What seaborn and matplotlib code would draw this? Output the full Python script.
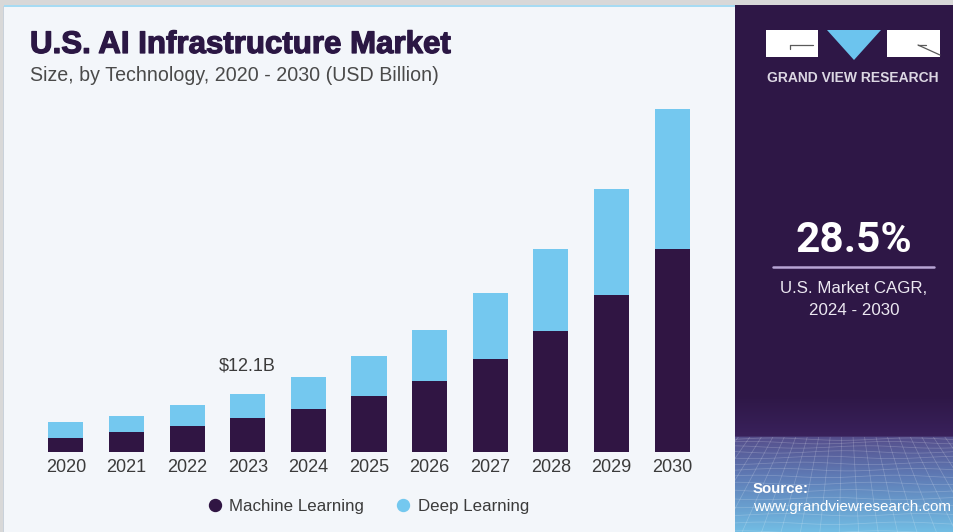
import numpy as np
import pandas as pd
import matplotlib
matplotlib.use("Agg")
import matplotlib.pyplot as plt
import matplotlib.patheffects as pe
from matplotlib.patches import Rectangle, Polygon
from matplotlib.lines import Line2D
from matplotlib.colors import LinearSegmentedColormap
import seaborn as sns

# ---- data (USD billion) ----
years = ["2020", "2021", "2022", "2023", "2024", "2025",
         "2026", "2027", "2028", "2029", "2030"]
machine_learning = [2.9, 4.1, 5.4, 7.1, 8.9, 11.7, 14.8, 19.5, 25.2, 32.8, 42.4]
deep_learning = [3.3, 3.4, 4.3, 5.0, 6.8, 8.4, 10.7, 13.7, 17.2, 22.3, 29.5]
series_names = ["Machine Learning", "Deep Learning"]
labelled_year = "2023"

title = "U.S. AI Infrastructure Market"
subtitle = "Size, by Technology, 2020 - 2030 (USD Billion)"
cagr_value = "28.5%"
cagr_caption = ["U.S. Market CAGR,", "2024 - 2030"]
brand = "GRAND VIEW RESEARCH"
source_lines = ["Source:", "www.grandviewresearch.com"]

# ---- style ----
DARK = "#301543"
LIGHT = "#74c8ef"
PANEL = "#f3f6fa"
SIDE = "#2e1746"
TEXT = "#3b3b3b"
TITLE = "#2b1744"

sns.set_theme(style="white")
plt.rcParams["font.family"] = ["Liberation Sans", "DejaVu Sans"]

W, H = 954, 532
fig = plt.figure(figsize=(W / 100, H / 100), dpi=100)
fig.patch.set_facecolor("#d8d8d8")

# background layer in pixel coordinates
bg = fig.add_axes([0, 0, 1, 1])
bg.set_zorder(0)

bg.add_patch(Rectangle((4, 6), 731, H - 6, fc=PANEL, ec="none"))
bg.add_patch(Rectangle((4, 5), 731, 2, fc="#a6dbf3", ec="none"))
bg.add_patch(Rectangle((3, 6), 1.2, H - 6, fc="#c9d1da", ec="none"))
bg.add_patch(Rectangle((735, 5), W - 735, H - 5, fc=SIDE, ec="none"))

# lower gradient band of the side panel
grad_cmap = LinearSegmentedColormap.from_list(
    "side", [(0.0, SIDE), (0.30, "#39215b"), (0.307, "#564f8c"),
             (0.6, "#5f7cb6"), (1.0, "#72bde4")])
bg.imshow(np.linspace(0, 1, 256)[:, None], cmap=grad_cmap, aspect="auto",
          extent=(735, W, H, 395), interpolation="bilinear", zorder=1)
bg.set_xlim(0, W)
bg.set_ylim(H, 0)
bg.axis("off")

# perspective floor mesh below the horizon
clip = Rectangle((735, 437), W - 735, H - 437, transform=bg.transData)
vx, vy = 845, 300
for bx in np.linspace(300, 1400, 46):
    ln, = bg.plot([vx, bx], [vy, H + 60], color="white", lw=0.55, alpha=0.2, zorder=2)
    ln.set_clip_path(clip)
for k in range(1, 16):
    yy = 437 + (H - 437) * (k / 15) ** 1.4
    xs = np.linspace(735, W, 80)
    ln, = bg.plot(xs, yy + 1.2 * np.sin(xs / 22 + k), color="white", lw=0.55,
                  alpha=0.2, zorder=2)
    ln.set_clip_path(clip)

# brand mark
bg.add_patch(Rectangle((766, 30), 52, 27, fc="white", ec="none", zorder=3))
bg.add_patch(Polygon([(827, 30), (881, 30), (854, 60)], closed=True,
                     fc="#6cc4ee", ec="none", zorder=3))
bg.add_patch(Rectangle((887, 30), 53, 27, fc="white", ec="none", zorder=3))
bg.plot([790, 813], [45, 45], color="#5a5a5a", lw=0.9, zorder=4)
bg.plot([790, 790], [45, 49], color="#5a5a5a", lw=0.9, zorder=4)
bg.plot([918, 926], [45, 45], color="#5a5a5a", lw=0.9, zorder=4)
bg.plot([918, 940], [45, 55], color="#5a5a5a", lw=0.9, zorder=4)
bg.text(853, 78, brand, ha="center", va="center", fontsize=10,
        fontweight="bold", color="#dcd7e3", zorder=4)

# CAGR block
bg.text(854, 251.5, cagr_value, ha="center", va="baseline", fontsize=30.5,
        fontweight="bold", family=["Roboto", "DejaVu Sans"], color="white", zorder=4)
bg.plot([773, 934], [266.5, 266.5], color="#b7a4d4", lw=1.8, zorder=4)
bg.text(854, 293, cagr_caption[0], ha="center", va="baseline",
        fontsize=12.2, color="#ece8f1", zorder=4)
bg.text(854, 315, cagr_caption[1], ha="center", va="baseline",
        fontsize=12.2, color="#ece8f1", zorder=4)

# source
bg.text(753, 493, source_lines[0], ha="left", va="baseline", fontsize=10.8,
        fontweight="bold", color="white", zorder=4)
bg.text(753, 511, source_lines[1], ha="left", va="baseline", fontsize=11,
        color="white", zorder=4)

# titles
bg.text(30, 53, title, ha="left", va="baseline", fontsize=22.5,
        fontweight="bold", color=TITLE, zorder=4,
        path_effects=[pe.withStroke(linewidth=0.9, foreground=TITLE)])
bg.text(30, 81, subtitle, ha="left", va="baseline", fontsize=14.1,
        color="#4a4a4a", zorder=4)

# ---- stacked bars ----
df = pd.DataFrame({"year": years, "ml": machine_learning, "dl": deep_learning})
df["total"] = df["ml"] + df["dl"]

ax = fig.add_axes([35.5 / W, 80.3 / H, 667 / W, 357.8 / H])
ax.set_zorder(2)
ax.patch.set_alpha(0)
sns.barplot(data=df, x="year", y="total", color=LIGHT, saturation=1,
            width=0.58, linewidth=0, ax=ax)
sns.barplot(data=df, x="year", y="ml", color=DARK, saturation=1,
            width=0.58, linewidth=0, ax=ax)
ax.set_xlim(-0.5, len(years) - 0.5)
ax.set_ylim(0, 75)
ax.set_yticks([])
ax.set_xlabel("")
ax.set_ylabel("")
for s in ax.spines.values():
    s.set_visible(False)
ax.tick_params(axis="x", length=0, pad=5, labelsize=13, labelcolor=TEXT)

i = years.index(labelled_year)
ax.annotate(f"${df['total'][i]:.1f}B", xy=(i, df["total"][i]),
            xytext=(0, 14), textcoords="offset points", ha="center",
            va="bottom", fontsize=13, color=TEXT)

handles = [Line2D([], [], marker="o", ls="", color=c, markersize=8.6)
           for c in (DARK, LIGHT)]
fig.legend(handles, series_names, loc="center",
           bbox_to_anchor=(368.5 / W, 1 - 506.5 / H), ncol=2, frameon=False,
           fontsize=12.2, handlelength=0.8, handletextpad=0.45,
           columnspacing=1.9, labelcolor=TEXT)

fig.savefig("out.png", dpi=100, facecolor=fig.get_facecolor())
